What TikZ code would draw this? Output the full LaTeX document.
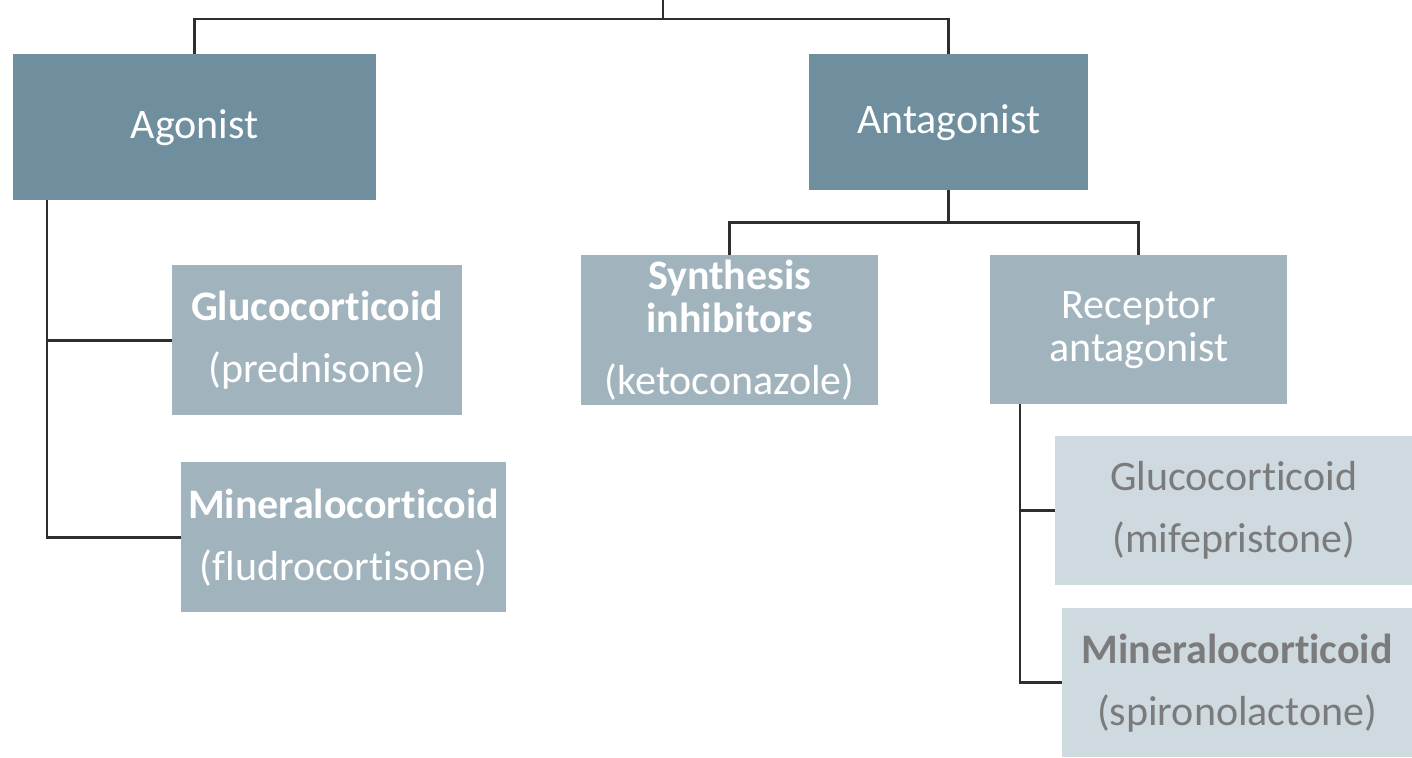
\documentclass[tikz,border=0pt]{standalone}
\usepackage{fontspec}
\setmainfont{Carlito}[Ligatures={NoCommon}]
\definecolor{darkbox}{HTML}{6F8E9E}
\definecolor{midbox}{HTML}{A1B4BE}
\definecolor{lightbox}{HTML}{CEDAE0}
\definecolor{greytext}{HTML}{7B7B7B}
\definecolor{linec}{HTML}{2E2E2E}
\tikzset{
  box/.style={rectangle, inner sep=0pt, align=center, anchor=north west,
    font=\fontsize{42}{43}\selectfont},
  dbox/.style={box, fill=darkbox, text=white},
  mbox/.style={box, fill=midbox, text=white},
  lbox/.style={box, fill=lightbox, text=greytext},
  conn/.style={draw=linec, line width=2.8pt}
}
\begin{document}
\begin{tikzpicture}[x=1pt,y=-1pt]
\useasboundingbox (0,0) rectangle (1412,757);
\fill[white] (0,0) rectangle (1412,757);
\coordinate (top) at (663,0);
\node[dbox, minimum width=363pt, minimum height=146pt] (ag) at (13,54) {Agonist};
\node[dbox, minimum width=279pt, minimum height=136pt] (ant) at (809,54) {Antagonist};
\node[mbox, minimum width=290pt, minimum height=150pt] (gp) at (172,265) {\textbf{Glucocorticoid}\\[19pt](prednisone)};
\node[mbox, minimum width=325pt, minimum height=150pt] (mf) at (181,462) {\textbf{Mineralocorticoid}\\[19pt](fludrocortisone)};
\node[mbox, minimum width=297pt, minimum height=150pt] (si) at (581,255) {\textbf{Synthesis}\\\textbf{inhibitors}\\[19pt](ketoconazole)};
\node[mbox, minimum width=297pt, minimum height=149pt] (ra) at (990,255) {Receptor\\antagonist};
\node[lbox, minimum width=357pt, minimum height=149pt] (gm) at (1055,436) {Glucocorticoid\\[19pt](mifepristone)};
\node[lbox, minimum width=350pt, minimum height=149pt] (ms) at (1062,608) {\textbf{Mineralocorticoid}\\[19pt](spironolactone)};
\draw[conn] (top) -- ++(0,19) -| (ag.north);
\draw[conn] (top) ++(0,19) -| (ant.north);
\draw[conn] (ag.south west) ++(34,0) |- (gp.west);
\draw[conn] (ag.south west) ++(34,0) |- (mf.west);
\draw[conn] (ant.south) -- ++(0,32) -| (si.north);
\draw[conn] (ant.south) ++(0,32) -| (ra.north);
\draw[conn] (ra.south west) ++(30,0) |- (gm.west);
\draw[conn] (ra.south west) ++(30,0) |- (ms.west);
\end{tikzpicture}
\end{document}
